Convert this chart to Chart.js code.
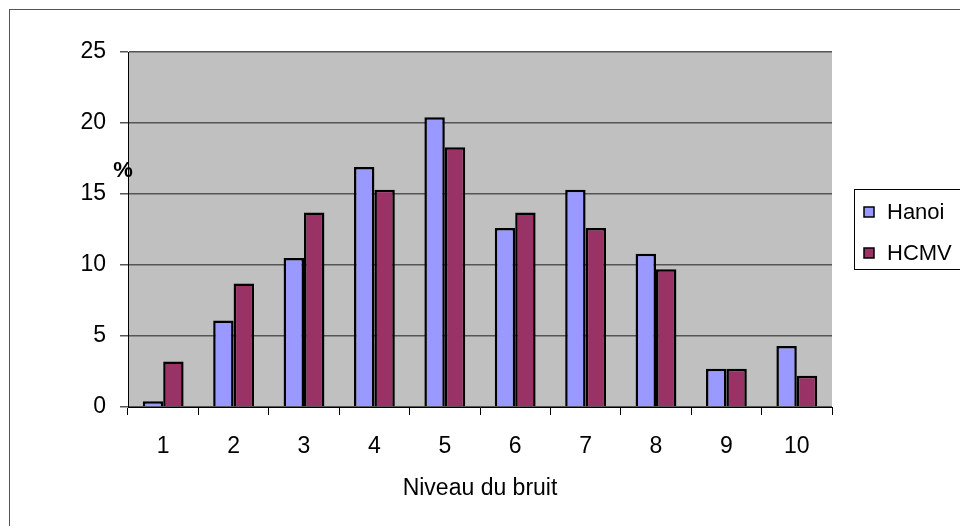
<!DOCTYPE html>
<html>
<head>
<meta charset="utf-8">
<script src="https://cdn.jsdelivr.net/npm/chart.js@4"></script>
<style>
  html,body{margin:0;padding:0;background:#fff;}
  #wrap{width:960px;height:526px;position:relative;}
</style>
</head>
<body>
<div id="wrap"><canvas id="noiseChart"></canvas></div>
<script>
// chart data
const levels = ['1','2','3','4','5','6','7','8','9','10'];
const hanoi = [0.4, 6.1, 10.5, 16.9, 20.4, 12.6, 15.3, 10.8, 2.7, 4.3];
const hcmv  = [3.2, 8.7, 13.7, 15.3, 18.3, 13.7, 12.6, 9.7, 2.7, 2.2];
const yTicks = [0, 5, 10, 15, 20, 25];
const FONT = 'Liberation Sans, Arial, sans-serif';

// grey plot area + outer frame
const backdrop = {
  id:'backdrop',
  beforeDraw(chart){
    const c=chart.ctx, a=chart.chartArea;
    c.save();
    c.fillStyle='#fff';
    c.fillRect(0,0,chart.width,chart.height);
    c.strokeStyle='#555';
    c.lineWidth=1;
    c.strokeRect(9.5,9.5,chart.width+20,chart.height+20);
    c.fillStyle='#c0c0c0';
    c.fillRect(a.left,a.top,a.right-a.left,a.bottom-a.top);
    c.restore();
  }
};

// "%" label and boxed legend
const extras = {
  id:'extras',
  afterDraw(chart){
    const c=chart.ctx, a=chart.chartArea, ys=chart.scales.y;
    c.save();
    c.fillStyle='#000';
    c.font='bold 22px '+FONT;
    c.textAlign='center';
    c.textBaseline='middle';
    c.fillText('%', a.left-5, ys.getPixelForValue(16.6));

    // legend box
    const bx=a.right+22, by=189;
    c.strokeStyle='#000';
    c.lineWidth=1;
    c.strokeRect(bx+0.5, by+0.5, 140, 80);
    c.font='22px '+FONT;
    c.textAlign='left';
    chart.data.datasets.forEach((ds,i)=>{
      const cy=by+23+i*41;
      c.fillStyle=ds.backgroundColor;
      c.fillRect(bx+10, cy-5, 10, 10);
      c.strokeStyle='#000';
      c.lineWidth=1.5;
      c.strokeRect(bx+10, cy-5, 10, 10);
      c.fillStyle='#000';
      c.fillText(ds.label, bx+33, cy+1);
    });
    c.restore();
  }
};

new Chart(document.getElementById('noiseChart'),{
  type:'bar',
  data:{
    labels:levels,
    datasets:[
      {label:'Hanoi',data:hanoi,backgroundColor:'#9999ff',borderColor:'#000',borderWidth:2.5,
       categoryPercentage:0.58,barPercentage:1.0},
      {label:'HCMV',data:hcmv,backgroundColor:'#993366',borderColor:'#000',borderWidth:2.5,
       categoryPercentage:0.58,barPercentage:1.0}
    ]
  },
  options:{
    responsive:true,
    maintainAspectRatio:false,
    animation:false,
    layout:{padding:{left:10,right:128,top:52,bottom:19}},
    plugins:{legend:{display:false},tooltip:{enabled:false}},
    scales:{
      x:{
        grid:{drawOnChartArea:false,drawTicks:true,tickLength:8,color:'#000',offset:true},
        border:{color:'#000',width:1},
        ticks:{color:'#000',font:{family:FONT,size:23},padding:18},
        title:{display:true,text:'Niveau du bruit',color:'#000',font:{family:FONT,size:23},padding:{top:10,bottom:5}},
        afterFit(s){ s.height=100; }
      },
      y:{
        min:0,max:25,
        afterBuildTicks(s){ s.ticks=yTicks.map(v=>({value:v})); },
        grid:{color:'#555',lineWidth:1.5,drawTicks:true,tickLength:8},
        border:{color:'#000',width:1},
        ticks:{color:'#000',font:{family:FONT,size:23},padding:14},
        afterFit(s){ s.width=118; }
      }
    }
  },
  plugins:[backdrop,extras]
});
</script>
</body>
</html>
